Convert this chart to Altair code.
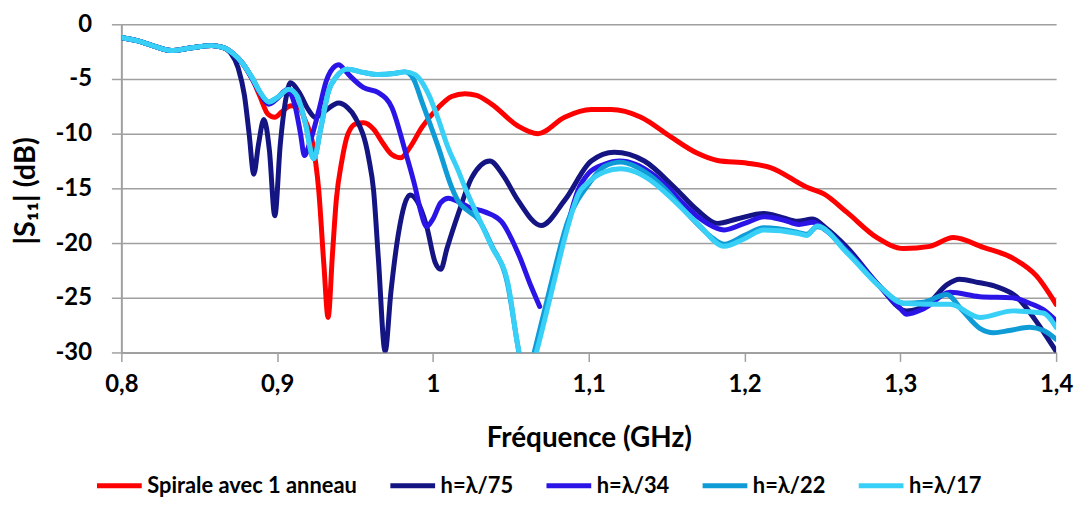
import altair as alt
import pandas as pd

series_names = ["Spirale avec 1 anneau", "h=λ/75", "h=λ/34", "h=λ/22", "h=λ/17"]
series_colors = ["#FF0000", "#141482", "#2B14E6", "#0F9CD6", "#38D0F7"]

# shared beginning of all curves
common_f = [0.80, 0.81, 0.82, 0.832, 0.845, 0.858, 0.865]
common_db = [-1.2, -1.5, -1.95, -2.4, -2.15, -1.95, -2.1]

red_f = [0.872, 0.878, 0.884, 0.889, 0.894, 0.8985, 0.903, 0.909, 0.914, 0.918, 0.9224,
         0.9267, 0.930, 0.9327, 0.9355, 0.938, 0.9415, 0.9455, 0.9505, 0.9555, 0.962,
         0.968, 0.9735, 0.9795, 0.985, 0.993, 1.0035, 1.012, 1.0205, 1.028, 1.0376,
         1.0546, 1.0674, 1.0845, 1.1016, 1.1143, 1.1335, 1.1527, 1.1698, 1.1826, 1.2018,
         1.2166, 1.240, 1.2509, 1.2658, 1.285, 1.302, 1.319, 1.334, 1.3533, 1.3724,
         1.3874, 1.400]
red_db = [-2.7, -3.6, -5.0, -6.6, -8.2, -8.5, -8.0, -7.45, -7.6, -8.8, -10.6,
          -15.2, -22.0, -26.8, -21.0, -16.0, -12.5, -10.0, -9.1, -9.0, -9.6,
          -10.9, -11.9, -12.2, -11.3, -9.4, -7.6, -6.6, -6.35, -6.5, -7.3,
          -9.3, -10.0, -8.5, -7.8, -7.8, -8.5, -10.3, -11.8, -12.45, -12.7,
          -13.1, -14.9, -15.5, -17.2, -19.5, -20.5, -20.3, -19.5, -20.4, -21.4,
          -23.0, -25.6]

navy_f = [0.870, 0.875, 0.879, 0.882, 0.885, 0.888, 0.8915, 0.895, 0.8985, 0.902, 0.906,
          0.9085, 0.914, 0.920, 0.9245, 0.930, 0.9395, 0.945, 0.950, 0.9587, 0.9619,
          0.965, 0.9693, 0.973, 0.978, 0.9853, 0.990, 0.996, 1.0015, 1.005, 1.009,
          1.0163, 1.025, 1.0365, 1.045, 1.0546, 1.0695, 1.0845, 1.1016, 1.1164, 1.1357,
          1.1549, 1.1698, 1.1826, 1.195, 1.2125, 1.225, 1.2338, 1.2438, 1.252, 1.2658,
          1.287, 1.304, 1.318, 1.330, 1.338, 1.350, 1.362, 1.3745, 1.3894, 1.400]
navy_db = [-2.6, -4.0, -6.5, -10.0, -13.7, -11.0, -8.7, -11.5, -17.5, -11.0, -6.5,
           -5.35, -6.2, -7.8, -8.5, -8.0, -7.2, -7.6, -8.5, -12.2, -15.2,
           -21.5, -29.9, -24.5, -19.0, -15.6, -16.2, -18.5, -21.8, -22.4, -20.5,
           -17.3, -14.0, -12.5, -13.8, -16.1, -18.4, -16.1, -12.5, -11.7, -12.5,
           -14.9, -17.0, -18.2, -17.8, -17.3, -17.7, -18.0, -17.8, -18.6, -20.4,
           -24.0, -26.2, -25.5, -23.8, -23.3, -23.6, -24.0, -24.9, -27.6, -29.9]

blue_f1 = [0.872, 0.878, 0.884, 0.889, 0.8947, 0.900, 0.906, 0.911, 0.915, 0.9175, 0.921,
           0.9267, 0.9315, 0.9374, 0.9395, 0.944, 0.948, 0.9555, 0.965, 0.9736, 0.9822,
           0.9886, 0.992, 0.996, 1.000, 1.005, 1.0099, 1.016, 1.0227, 1.0333, 1.044,
           1.0546, 1.0631, 1.0685]
blue_db1 = [-2.7, -3.6, -5.0, -6.3, -7.3, -6.8, -6.0, -7.2, -10.0, -12.0, -10.8,
            -7.9, -5.2, -3.8, -3.7, -4.3, -4.9, -5.8, -6.25, -7.6, -11.6,
            -14.9, -17.0, -18.5, -17.8, -16.3, -15.9, -16.2, -16.7, -17.15, -18.05,
            -20.9, -24.0, -25.8]
blue_f2 = [1.0866, 1.093, 1.100, 1.110, 1.120, 1.130, 1.140, 1.150, 1.160,
           1.170, 1.180, 1.187, 1.200, 1.213, 1.225, 1.235, 1.244, 1.252, 1.266, 1.287,
           1.300, 1.304, 1.315, 1.332, 1.351, 1.372, 1.383, 1.392, 1.400]
blue_db2 = [-18.3, -15.2, -13.6, -12.8, -12.5, -12.8, -13.6, -14.8, -16.3,
            -17.6, -18.5, -18.8, -18.2, -17.6, -17.9, -18.3, -18.1, -18.8, -20.7, -24.0,
            -26.0, -26.5, -26.0, -24.5, -24.9, -25.0, -25.5, -26.1, -27.1]

# shared part of h=λ/22 and h=λ/17 between 0.87 and 0.98 GHz
thick_f = [0.872, 0.878, 0.884, 0.889, 0.8947, 0.900, 0.9075, 0.913, 0.918, 0.9235, 0.928,
           0.933, 0.938, 0.945, 0.955, 0.965, 0.975, 0.982]
thick_db = [-2.7, -3.6, -4.9, -6.2, -7.1, -6.7, -5.95, -6.6, -9.0, -12.3, -9.5,
            -6.1, -4.8, -4.1, -4.4, -4.6, -4.5, -4.35]

teal_f = [0.9875, 0.9927, 1.0035, 1.012, 1.0163, 1.022, 1.029, 1.0376, 1.048, 1.0546,
          1.0595, 1.065, 1.075, 1.0866, 1.100, 1.110, 1.1205, 1.130, 1.140, 1.150, 1.160,
          1.170, 1.180, 1.187, 1.200, 1.2124, 1.2338, 1.240, 1.2466, 1.2658, 1.287, 1.302,
          1.315, 1.3297, 1.340, 1.351, 1.360, 1.370, 1.383, 1.392, 1.400]
teal_db = [-5.0, -7.0, -11.25, -14.9, -16.2, -17.0, -17.8, -20.2, -23.8, -29.5,
           -33.0, -30.0, -24.2, -18.0, -14.6, -13.0, -12.6, -13.0, -13.9, -15.2, -16.8,
           -18.3, -19.6, -20.1, -19.3, -18.6, -19.0, -19.2, -18.5, -20.8, -24.0, -25.5,
           -25.4, -24.7, -26.2, -27.8, -28.2, -28.0, -27.7, -28.0, -28.8]

cyan_f = [0.9886, 0.993, 0.9975, 1.003, 1.0095, 1.0163, 1.0205, 1.029, 1.0376, 1.048,
          1.0546, 1.0605, 1.0664, 1.0759, 1.0866, 1.093, 1.100, 1.110, 1.1205, 1.130,
          1.140, 1.150, 1.1698, 1.1869, 1.200, 1.2124, 1.2338, 1.240, 1.2466, 1.2658,
          1.287, 1.302, 1.319, 1.332, 1.351, 1.3724, 1.3916, 1.400]
cyan_db = [-4.6, -5.3, -6.5, -8.5, -11.2, -13.4, -14.9, -17.6, -20.3, -23.6,
           -29.5, -33.0, -30.0, -24.6, -18.5, -15.6, -14.4, -13.5, -13.2, -13.5,
           -14.3, -15.5, -18.2, -20.3, -19.6, -18.8, -19.1, -19.3, -18.45, -20.9,
           -24.0, -25.5, -25.6, -25.6, -26.8, -26.2, -26.4, -27.7]

x_ticks = [0.8, 0.9, 1.0, 1.1, 1.2, 1.3, 1.4]
y_ticks = [0, -5, -10, -15, -20, -25, -30]

rows = []
def add(name, seg, fs, dbs):
    for f, d in zip(fs, dbs):
        rows.append({"serie": name, "seg": seg, "f": f, "db": d})

add(series_names[0], "a", common_f + red_f, common_db + red_db)
add(series_names[1], "a", common_f + navy_f, common_db + navy_db)
add(series_names[2], "a", common_f + blue_f1, common_db + blue_db1)
add(series_names[2], "b", blue_f2, blue_db2)
add(series_names[3], "a", common_f + thick_f + teal_f, common_db + thick_db + teal_db)
add(series_names[4], "a", common_f + thick_f + cyan_f, common_db + thick_db + cyan_db)

df = pd.DataFrame(rows)
df["order"] = range(len(df))

FONT = "Lato"

chart = alt.Chart(df).mark_line(
    interpolate="monotone", strokeWidth=5, clip=True, strokeCap="round"
).encode(
    x=alt.X("f:Q",
            scale=alt.Scale(domain=[0.8, 1.4], nice=False, zero=False),
            axis=alt.Axis(values=x_ticks, grid=False, title="Fréquence (GHz)",
                          labelExpr="replace(format(datum.value, '.1~f'), '.', ',')",
                          labelFont=FONT, labelFontSize=24, labelFontWeight="bold",
                          labelColor="#000000", labelPadding=11, tickSize=9,
                          tickColor="#A0A0A0", tickWidth=1.5,
                          domainColor="#A0A0A0", domainWidth=2,
                          titleFont=FONT, titleFontSize=28, titleFontWeight="bold",
                          titleColor="#000000", titleBaseline="middle", titleY=87,
                          labelFlush=False)),
    y=alt.Y("db:Q",
            scale=alt.Scale(domain=[-30, 0], nice=False, zero=False),
            axis=alt.Axis(values=y_ticks, grid=True, gridColor="#A0A0A0", gridWidth=1.5,
                          title="|S₁₁| (dB)",
                          labelExpr="datum.value == 0 ? '0' : '-' + abs(datum.value)",
                          labelFont=FONT, labelFontSize=24, labelFontWeight="bold",
                          labelColor="#000000", labelPadding=20, tickSize=10,
                          tickColor="#A0A0A0", tickWidth=1.5,
                          domainColor="#A0A0A0", domainWidth=2,
                          titleFont=FONT, titleFontSize=29, titleFontWeight="bold",
                          titleColor="#000000", titleX=-96, titleY=167,
                          titleAngle=270, titleAlign="center", titleBaseline="middle")),
    color=alt.Color("serie:N",
                    scale=alt.Scale(domain=series_names, range=series_colors),
                    sort=series_names,
                    legend=alt.Legend(title=None, orient="none", direction="horizontal",
                                      legendX=-27, legendY=439,
                                      symbolType="stroke", symbolSize=2025,
                                      symbolStrokeWidth=5, labelFont=FONT,
                                      labelFontSize=22, labelFontWeight="bold",
                                      labelColor="#000000", labelOffset=3,
                                      columnPadding=22, labelLimit=400)),
    detail="seg:N",
    order="order:Q",
).properties(
    width=940, height=330,
    autosize=alt.AutoSizeParams(type="none"),
    padding={"left": 114, "top": 15, "right": 22, "bottom": 147},
).configure_view(stroke=None)

chart.save("out.html", embed_options={"renderer": "svg", "actions": False})
